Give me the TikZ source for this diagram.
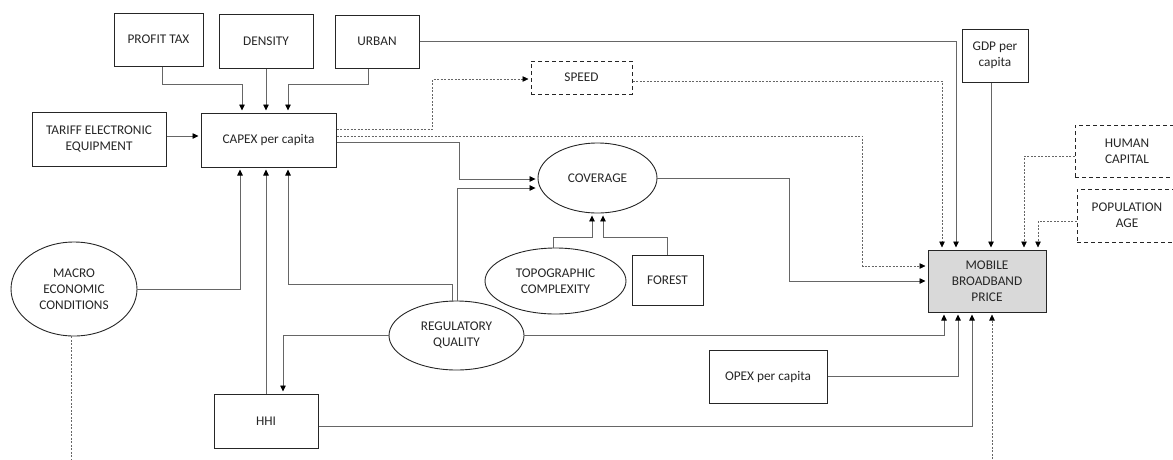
\documentclass[tikz,border=0pt]{standalone}
\usepackage{fontspec}
\setmainfont{Carlito}
\usetikzlibrary{arrows.meta,shapes.geometric}
\begin{document}
\begin{tikzpicture}[x=1pt,y=-1pt,
  every node/.style={font=\fontsize{13.3}{16}\selectfont, align=center, inner sep=0pt, text=black!85},
  box/.style={draw=black!85, line width=1pt, rectangle},
  dbox/.style={box, dash pattern=on 4pt off 3pt},
  oval/.style={draw=black!85, line width=0.9pt, ellipse},
  conn/.style={draw=black!60, line width=0.8pt, -{Triangle[length=6pt,width=5.5pt,black]}, shorten >=2pt},
  dconn/.style={conn, dash pattern=on 2pt off 1.5pt, line width=0.6pt},
  plain/.style={draw=black!60, line width=0.6pt, dash pattern=on 2pt off 1.5pt}
]
\useasboundingbox (0,0) rectangle (1173,459);
\clip (0,0) rectangle (1173,459);
% nodes
\node[box, minimum width=89, minimum height=53] (ptax) at (158.5,39.5) {PROFIT TAX};
\node[box, minimum width=94, minimum height=54] (dens) at (266,41) {DENSITY};
\node[box, minimum width=84, minimum height=53] (urban) at (377,41.5) {URBAN};
\node[box, minimum width=134, minimum height=54] (tariff) at (99,139) {TARIFF ELECTRONIC\\EQUIPMENT};
\node[box, minimum width=135, minimum height=54] (capex) at (268.5,140) {CAPEX per capita};
\node[dbox, minimum width=101, minimum height=33] (speed) at (581.5,77.5) {SPEED};
\node[box, minimum width=66, minimum height=53] (gdp) at (995,55.5) {GDP per\\capita};
\node[dbox, minimum width=104, minimum height=52] (human) at (1127,151) {HUMAN\\CAPITAL};
\node[dbox, minimum width=100, minimum height=53] (pop) at (1127,215.5) {POPULATION\\AGE};
\node[oval, minimum width=119, minimum height=70] (cov) at (597.5,178) {COVERAGE};
\node[oval, minimum width=141, minimum height=66] (topo) at (555.5,281) {TOPOGRAPHIC\\COMPLEXITY};
\node[box, minimum width=71, minimum height=50] (forest) at (667.5,280) {FOREST};
\node[oval, minimum width=126, minimum height=94] (macro) at (74,289) {MACRO\\ECONOMIC\\CONDITIONS};
\node[oval, minimum width=135, minimum height=69] (regq) at (456.5,335.5) {REGULATORY\\QUALITY};
\node[box, minimum width=104, minimum height=54] (hhi) at (266,421) {HHI};
\node[box, minimum width=118, minimum height=53] (opex) at (768,376.5) {OPEX per capita};
\node[box, fill=black!15, minimum width=118, minimum height=62] (mbp) at (987,281) {MOBILE\\BROADBAND\\PRICE};
\coordinate (mend) at (71,459);
\coordinate (mbot) at (992,459);
% connectors into CAPEX
\draw[conn] ([xshift=3.5pt]ptax.south) -- ++(0,18) -| ([xshift=-26.5pt]capex.north);
\draw[conn] (dens.south) -- (dens.south |- capex.north);
\draw[conn] ([xshift=-9pt]urban.south) -- ++(0,16) -| ([xshift=19.5pt]capex.north);
\draw[conn] ([yshift=3pt]tariff.east) -- ([yshift=3pt]tariff.east -| capex.west);
\draw[conn] (macro.east) -| ([xshift=-28.5pt]capex.south);
\draw[conn] (hhi.north) -- (hhi.north |- capex.south);
\draw[conn] ([xshift=-4.5pt]regq.north) -- ++(0,-16) -| ([xshift=19.5pt]capex.south);
% from CAPEX
\draw[dconn] ([yshift=11pt]capex.east) -- ++(96,0) |- ([yshift=-1.5pt]speed.west);
\draw[dconn] ([yshift=4pt]capex.east) -- ++(526,0) |- ([yshift=15pt]mbp.west);
\draw[conn] ([yshift=-2pt]capex.east) -- ++(123,0) |- ([yshift=-1pt]cov.west);
% into coverage
\draw[conn] ([xshift=0.5pt]regq.north) |- ([yshift=-10pt]cov.west);
\draw[conn] ([xshift=-2.5pt]topo.north) -- ++(0,-10) -| ([xshift=-5.5pt]cov.south);
\draw[conn] (forest.north) -- ++(0,-17) -| ([xshift=5.5pt]cov.south);
% into MBP
\draw[dconn] ([yshift=-3.5pt]speed.east) -| ([xshift=-45pt]mbp.north);
\draw[conn] (urban.east) -| ([xshift=-31pt]mbp.north);
\draw[conn] ([xshift=-4pt]gdp.south) -- ([xshift=4pt]mbp.north);
\draw[dconn] ([yshift=-5pt]human.west) -| ([xshift=37pt]mbp.north);
\draw[dconn] ([yshift=-5.5pt]pop.west) -| ([xshift=51pt]mbp.north);
\draw[conn] (cov.east) -- ++(132,0) |- (mbp.west);
\draw[conn] (regq.east) -| ([xshift=-43pt]mbp.south);
\draw[conn] (opex.east) -| ([xshift=-29pt]mbp.south);
\draw[conn] ([yshift=-5pt]hhi.east) -| ([xshift=-15pt]mbp.south);
\draw[dconn] (mbot) -- ([xshift=5pt]mbp.south);
% regulatory quality to HHI
\draw[conn] (regq.west) -| ([xshift=17pt]hhi.north);
% macro dashed down
\draw[plain] ([xshift=-3pt]macro.south) -- (mend);
\end{tikzpicture}
\end{document}
